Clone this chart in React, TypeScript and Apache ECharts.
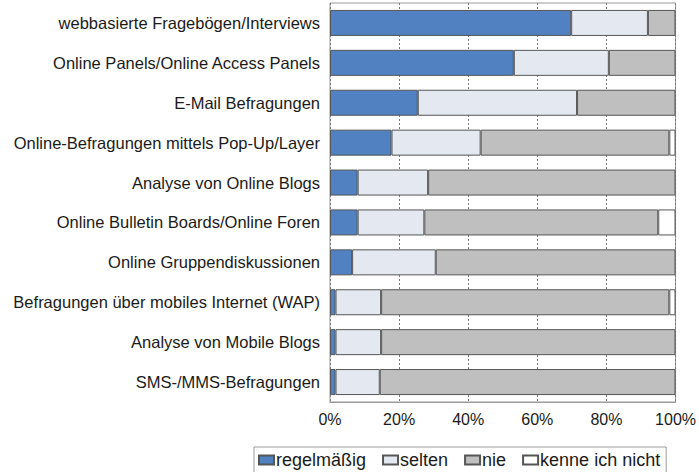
import React, { useEffect, useRef } from "react";
import * as echarts from "echarts";

const categories = [
  "webbasierte Fragebögen/Interviews",
  "Online Panels/Online Access Panels",
  "E-Mail Befragungen",
  "Online-Befragungen mittels Pop-Up/Layer",
  "Analyse von Online Blogs",
  "Online Bulletin Boards/Online Foren",
  "Online Gruppendiskussionen",
  "Befragungen über mobiles Internet (WAP)",
  "Analyse von Mobile Blogs",
  "SMS-/MMS-Befragungen",
];

const seriesNames = ["regelmäßig", "selten", "nie", "kenne ich nicht"];

const regelmaessig = [69.8, 53.2, 25.4, 17.8, 8.0, 8.0, 6.4, 1.6, 1.6, 1.6];
const selten = [22.2, 27.5, 46.1, 25.8, 20.4, 19.3, 24.2, 13.2, 13.2, 12.8];
const nie = [8.0, 19.3, 28.5, 54.6, 71.6, 67.7, 69.4, 83.4, 85.2, 85.6];
const kenneIchNicht = [0, 0, 0, 1.8, 0, 5.0, 0, 1.8, 0, 0];

const colors = ["#5181c0", "#e4e8f0", "#bfbfbf", "#ffffff"];

export default function App() {
  const ref = useRef<HTMLDivElement>(null);

  useEffect(() => {
    if (!ref.current) return;
    const chart = echarts.init(ref.current, null, { renderer: "svg" });
    const values = [regelmaessig, selten, nie, kenneIchNicht];
    const font = "Liberation Sans, Arial, sans-serif";
    chart.setOption({
      animation: false,
      textStyle: { fontFamily: font },
      grid: {
        left: 330,
        right: 20,
        top: 3,
        bottom: 70,
        show: true,
        borderColor: "#9a9a9a",
        borderWidth: 1,
        backgroundColor: "#ffffff",
      },
      legend: {
        left: 254,
        top: 447,
        padding: [4, 6, 4, 4],
        borderColor: "#9a9a9a",
        borderWidth: 1,
        itemWidth: 15,
        itemHeight: 9,
        itemGap: 16,
        icon: "rect",
        textStyle: { fontSize: 18, color: "#1a1a1a", fontFamily: font, padding: [0, 0, 0, -3] },
        data: seriesNames,
      },
      xAxis: {
        type: "value",
        min: 0,
        max: 100,
        interval: 20,
        axisLabel: {
          formatter: "{value}%",
          fontSize: 16,
          color: "#1a1a1a",
          margin: 9,
          fontFamily: font,
        },
        axisLine: { show: true, lineStyle: { color: "#9a9a9a" } },
        axisTick: { show: false },
        splitLine: {
          show: true,
          lineStyle: { color: "#7a7a7a", type: [2, 2], width: 1 },
        },
      },
      yAxis: {
        type: "category",
        inverse: true,
        data: categories,
        axisLabel: {
          fontSize: 16.5,
          color: "#1a1a1a",
          margin: 10,
          fontFamily: font,
        },
        axisLine: { show: false },
        axisTick: { show: false },
        splitLine: { show: false },
      },
      series: seriesNames.map((name, i) => ({
        name,
        type: "bar",
        stack: "total",
        barWidth: 26,
        data: values[i].map((v) => (v === 0 ? "-" : v)),
        itemStyle: {
          color: colors[i],
          borderColor: "#555555",
          borderWidth: 1,
        },
      })),
    });
    return () => chart.dispose();
  }, []);

  return (
    <div
      ref={ref}
      style={{ position: "absolute", left: 0, top: 0, width: 699, height: 472 }}
    />
  );
}
